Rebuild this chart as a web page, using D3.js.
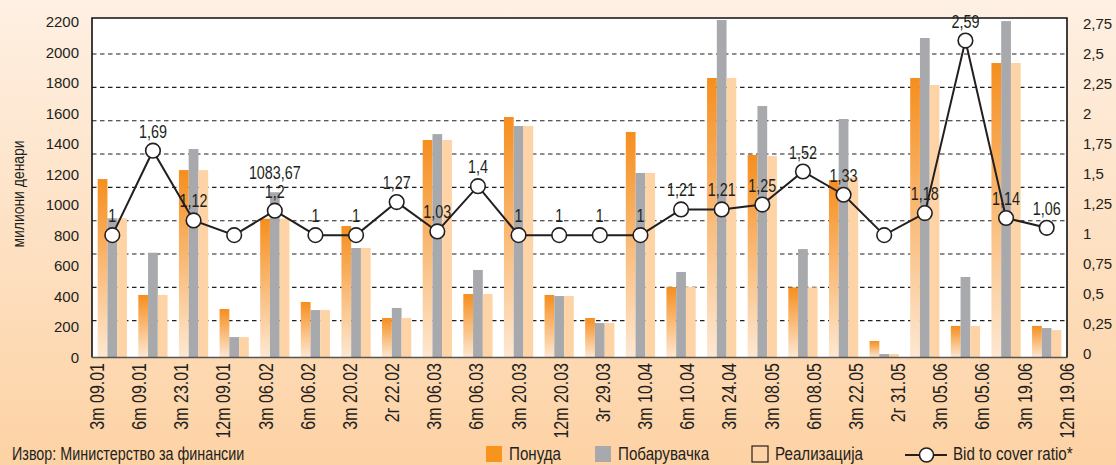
<!DOCTYPE html>
<html><head><meta charset="utf-8">
<script src="https://cdn.jsdelivr.net/npm/d3@7"></script>
<style>body{margin:0;background:#fff;} svg{display:block;}</style>
</head><body>
<svg id="chart" width="1116" height="465"></svg>
<script>
// ---------------- data ----------------
const categories = ["3m 09.01","6m 09.01","3m 23.01","12m 09.01","3m 06.02","6m 06.02","3m 20.02","2г 22.02",
  "3m 06.03","6m 06.03","3m 20.03","12m 20.03","3г 29.03","3m 10.04","6m 10.04","3m 24.04",
  "3m 08.05","6m 08.05","3m 22.05","2г 31.05","3m 05.06","6m 05.06","3m 19.06","12m 19.06"];
const offer       = [1170, 410, 1229, 318, 910, 364, 862, 259, 1426, 416, 1577, 410, 259, 1479, 462, 1833, 1328, 460, 1164, 108, 1833, 207, 1931, 207];
const demand      = [913, 687, 1367, 134, 1083.67, 311, 718, 325, 1465, 574, 1518, 403, 226, 1210, 561, 2213, 1649, 711, 1564, 23, 2095, 528, 2206, 193];
const realization = [913, 410, 1229, 134, 910, 311, 718, 259, 1426, 416, 1518, 403, 226, 1210, 462, 1833, 1321, 460, 1181, 23, 1787, 207, 1931, 180];
const ratio       = [1, 1.69, 1.12, 1, 1.2, 1, 1, 1.27, 1.03, 1.4, 1, 1, 1, 1, 1.21, 1.21, 1.25, 1.52, 1.33, 1, 1.18, 2.59, 1.14, 1.06];
const ratioLabelShown = [true,true,true,false,true,true,true,true,true,true,true,true,true,true,true,true,true,true,true,false,true,true,true,true];
const demandLabelShown = categories.map((c, i) => i === 4);
const leftTicks  = [0,200,400,600,800,1000,1200,1400,1600,1800,2000,2200];
const rightTicks = [0,0.25,0.5,0.75,1,1.25,1.5,1.75,2,2.25,2.5,2.75];
const seriesNames = ["Понуда","Побарувачка","Реализација"];
const lineName = "Bid to cover ratio*";
const yTitle = "милиони денари";
const sourceText = "Извор: Министерство за финансии";

// ---------------- layout ----------------
const FONT = "'Liberation Sans',Arial,sans-serif";
const NX = 0.82; // horizontal condensing to emulate a narrow face
const TXT = "#231F20";
const svg = d3.select("#chart");
const W = 1116, H = 465;
const L = 92, R = 1067, T = 18, B = 357.5;

const defs = svg.append("defs");
const bg = defs.append("linearGradient").attr("id","bg").attr("x1",0).attr("y1",0).attr("x2",0).attr("y2",1);
bg.append("stop").attr("offset",0).attr("stop-color","#FEF0E3");
bg.append("stop").attr("offset",1).attr("stop-color","#FDD2A4");
const og = defs.append("linearGradient").attr("id","og").attr("x1",0).attr("y1",0).attr("x2",0).attr("y2",1);
og.append("stop").attr("offset",0).attr("stop-color","#F68E1E");
og.append("stop").attr("offset",1).attr("stop-color","#FDE8D2");

svg.append("rect").attr("width",W).attr("height",H).attr("fill","url(#bg)");
svg.append("rect").attr("x",L).attr("y",T).attr("width",R-L).attr("height",B-T).attr("fill","#fff");

// scales
const x0 = d3.scaleBand().domain(categories).range([L, R]).paddingInner(0.28).paddingOuter(0.14);
const x1 = d3.scaleBand().domain([0,1,2]).range([0, x0.bandwidth()]);
const xLab = d3.scalePoint().domain(categories).range([97, 1067]);
const yL = d3.scaleLinear().domain([0, 2200]).range([B, 22]);
const yR = d3.scaleLinear().domain([0, 2.75]).range([B, 21]);
const yRAxis = d3.scaleLinear().domain([0, 2.75]).range([353.5, 23.5]);
const grid = d3.scaleLinear().domain([0, 10]).range([354, 20.7]);
const fmt = v => String(v).replace(".", ",");

// gridlines
svg.append("g").selectAll("line").data(d3.range(1, 10)).join("line")
  .attr("x1", L).attr("x2", R).attr("y1", d => grid(d)).attr("y2", d => grid(d))
  .attr("stroke", "#231F20").attr("stroke-width", 1.1).attr("stroke-dasharray", "4.5,3.5");

// bars
const series = [offer, demand, realization];
const fills = ["url(#og)", "#A7A9AC", "#FED4A6"];
const rows = categories.map((c, i) => ({ c, i, vals: series.map(s => s[i]) }));
const groups = svg.append("g").selectAll("g").data(rows).join("g")
  .attr("transform", d => `translate(${x0(d.c)},0)`);
groups.selectAll("rect").data(d => d.vals.map((v, k) => ({ v, k }))).join("rect")
  .attr("x", d => x1(d.k)).attr("width", x1.bandwidth())
  .attr("y", d => yL(d.v)).attr("height", d => B - yL(d.v))
  .attr("fill", d => fills[d.k]);

// demand data label
svg.append("g").selectAll("text").data(rows.filter(d => demandLabelShown[d.i])).join("text")
  .attr("transform", d => `translate(${x0(d.c) + x1(1) + x1.bandwidth() / 2},${yL(d.vals[1]) - 13}) scale(${NX},1)`)
  .attr("text-anchor", "middle").attr("font-family", FONT).attr("font-size", 17.5).attr("fill", TXT)
  .text(d => fmt(d.vals[1]));

// frame
svg.append("path").attr("d", `M${L},${B}V${T}H${R}V${B}`).attr("fill", "none").attr("stroke", "#111").attr("stroke-width", 1.6);
svg.append("line").attr("x1", L).attr("x2", R).attr("y1", B).attr("y2", B).attr("stroke", "#555").attr("stroke-width", 1.4);

// line
const cx = c => x0(c) + x0.bandwidth() / 2;
const pts = categories.map((c, i) => ({ c, i, v: ratio[i] }));
svg.append("path").datum(pts)
  .attr("d", d3.line().x(d => cx(d.c)).y(d => yR(d.v)))
  .attr("fill", "none").attr("stroke", "#231F20").attr("stroke-width", 2);
svg.append("g").selectAll("circle").data(pts).join("circle")
  .attr("cx", d => cx(d.c)).attr("cy", d => yR(d.v)).attr("r", 7.3)
  .attr("fill", "#fff").attr("stroke", "#231F20").attr("stroke-width", 1.6);
svg.append("g").selectAll("text").data(pts.filter(d => ratioLabelShown[d.i])).join("text")
  .attr("transform", d => `translate(${cx(d.c)},${yR(d.v) - 13}) scale(${NX},1)`)
  .attr("text-anchor", "middle").attr("font-family", FONT).attr("font-size", 17.5).attr("fill", TXT)
  .text(d => fmt(d.v));

// axes
const gl = svg.append("g").attr("transform", `translate(${L},0)`)
  .call(d3.axisLeft(yL).tickValues(leftTicks).tickSize(0).tickPadding(13).tickFormat(d3.format("d")));
gl.select(".domain").remove();
gl.selectAll("text").attr("font-family", FONT).attr("font-size", 15).attr("fill", TXT);

const gr = svg.append("g").attr("transform", `translate(${R},0)`)
  .call(d3.axisRight(yRAxis).tickValues(rightTicks).tickSize(0).tickPadding(16).tickFormat(fmt));
gr.select(".domain").remove();
gr.selectAll("text").attr("font-family", FONT).attr("font-size", 15).attr("fill", TXT);

// x labels
svg.append("g").selectAll("text").data(categories).join("text")
  .attr("transform", d => `translate(${xLab(d)},363) rotate(-90) scale(${NX},1)`)
  .attr("text-anchor", "end").attr("dy", "0.35em")
  .attr("font-family", FONT).attr("font-size", 19.5).attr("fill", TXT)
  .text(d => d);

// y title
svg.append("text").attr("transform", `translate(18,194) rotate(-90) scale(${NX},1)`)
  .attr("text-anchor", "middle").attr("dy", "0.35em")
  .attr("font-family", FONT).attr("font-size", 17).attr("fill", TXT).text(yTitle);

// source
svg.append("text").attr("transform", `translate(12,460) scale(${NX},1)`)
  .attr("font-family", FONT).attr("font-size", 17.5).attr("fill", TXT).text(sourceText);

// legend
const leg = svg.append("g");
const legX = [486, 595, 752];
const legFill = ["#F7941D", "#A7A9AC", "none"];
seriesNames.forEach((n, k) => {
  leg.append("rect").attr("x", legX[k]).attr("y", 446).attr("width", 16).attr("height", 16)
    .attr("fill", legFill[k]).attr("stroke", k === 2 ? "#231F20" : "none").attr("stroke-width", 1.2);
  leg.append("text").attr("transform", `translate(${legX[k] + 23},460) scale(${NX},1)`)
    .attr("font-family", FONT).attr("font-size", 18.5).attr("fill", TXT).text(n);
});
leg.append("line").attr("x1", 905).attr("x2", 947).attr("y1", 455).attr("y2", 455).attr("stroke", "#231F20").attr("stroke-width", 2.2);
leg.append("circle").attr("cx", 926.5).attr("cy", 455).attr("r", 7).attr("fill", "#fff").attr("stroke", "#231F20").attr("stroke-width", 1.6);
leg.append("text").attr("transform", `translate(953,460) scale(${NX},1)`)
  .attr("font-family", FONT).attr("font-size", 18.5).attr("fill", TXT).text(lineName);
</script>
</body></html>
